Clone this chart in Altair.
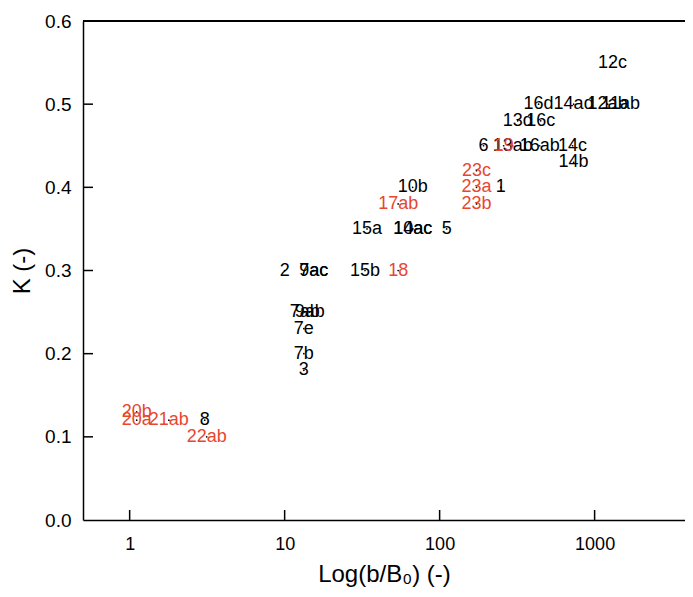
import altair as alt
import pandas as pd

labels = ["12c", "16d", "14ad", "12ab", "11ab", "13d", "16c", "6", "13ab", "16ab",
          "14c", "14b", "1", "10b", "15a", "14ac", "10ac", "5", "15b", "2",
          "7ac", "9ac", "7ab", "9ab", "7e", "7b", "3", "8",
          "19", "23c", "23a", "23b", "17ab", "18", "20b", "20a", "21ab", "22ab"]
xvals = [1306, 435, 732, 1213, 1472, 319, 449, 192, 296, 442,
         721, 732, 248, 67, 34, 67, 67, 111, 33, 10,
         15.4, 15.4, 13.5, 14.5, 13.3, 13.3, 13.3, 3.05,
         259, 173, 173, 173, 54, 54, 1.11, 1.11, 1.79, 3.14]
kvals = [0.55, 0.50, 0.50, 0.50, 0.50, 0.48, 0.48, 0.45, 0.45, 0.45,
         0.45, 0.43, 0.40, 0.40, 0.35, 0.35, 0.35, 0.35, 0.30, 0.30,
         0.30, 0.30, 0.25, 0.25, 0.23, 0.20, 0.18, 0.12,
         0.45, 0.42, 0.40, 0.38, 0.38, 0.30, 0.13, 0.12, 0.12, 0.10]
groups = ["black"] * 28 + ["red"] * 10

x_ticks = [1, 10, 100, 1000]
y_ticks = [0.1, 0.2, 0.3, 0.4, 0.5]

W, H = 602, 499
FONT = "Liberation Sans"

df = pd.DataFrame({"label": labels, "b": xvals, "K": kvals, "grp": groups})
xt = pd.DataFrame({"t": x_ticks})
yt = pd.DataFrame({"t": y_ticks})

xscale = alt.Scale(type="log", domain=[0.5, 3830])
yscale = alt.Scale(domain=[0, 0.6])

xenc = alt.X("b:Q", scale=xscale,
             axis=alt.Axis(values=x_ticks, tickSize=0, grid=False, labelPadding=15,
                           labelFontSize=18, labelFont=FONT, labelColor="black",
                           domainColor="black", domainWidth=1.5,
                           title="Log(b/B₀) (-)", titleFontSize=24, titleFont=FONT,
                           titleFontWeight="normal", titlePadding=9, format="d"))
yenc = alt.Y("K:Q", scale=yscale,
             axis=alt.Axis(values=[0, 0.1, 0.2, 0.3, 0.4, 0.5, 0.6], tickSize=0, grid=False,
                           labelPadding=12, labelFontSize=19, labelFont=FONT,
                           labelColor="black", format=".1f",
                           domainColor="black", domainWidth=1.5,
                           title="K (-)", titleFontSize=24, titleFont=FONT,
                           titleFontWeight="normal", titlePadding=10))

base = alt.Chart(df)

pts = base.mark_point(filled=True, size=3, color="black", opacity=1).encode(x=xenc, y=yenc)

black_txt = base.transform_filter(alt.datum.grp == "black").mark_text(
    font=FONT, fontSize=18, color="black", align="center", baseline="middle"
).encode(x=alt.X("b:Q", scale=xscale), y=alt.Y("K:Q", scale=yscale), text="label:N")

red_txt = base.transform_filter(alt.datum.grp == "red").mark_text(
    font=FONT, fontSize=18, color="#e8462e", align="center", baseline="middle"
).encode(x=alt.X("b:Q", scale=xscale), y=alt.Y("K:Q", scale=yscale), text="label:N")

xtick_rules = alt.Chart(xt).mark_rule(color="black", strokeWidth=1.5).encode(
    x=alt.X("t:Q", scale=xscale), y=alt.value(H - 10), y2=alt.value(H))
ytick_rules = alt.Chart(yt).mark_rule(color="black", strokeWidth=1.5).encode(
    y=alt.Y("t:Q", scale=yscale), x=alt.value(0), x2=alt.value(10))
top_rule = alt.Chart(xt).mark_rule(color="black", strokeWidth=1.5).encode(
    x=alt.value(0), x2=alt.value(W), y=alt.value(0))

chart = alt.layer(pts, black_txt, red_txt, xtick_rules, ytick_rules, top_rule).properties(
    width=W, height=H,
    autosize="none",
    padding={"left": 75, "top": 13, "right": 0, "bottom": 68},
    background="white",
).configure_view(stroke=None)

chart.save("out.html", embed_options={"renderer": "svg", "actions": False})
